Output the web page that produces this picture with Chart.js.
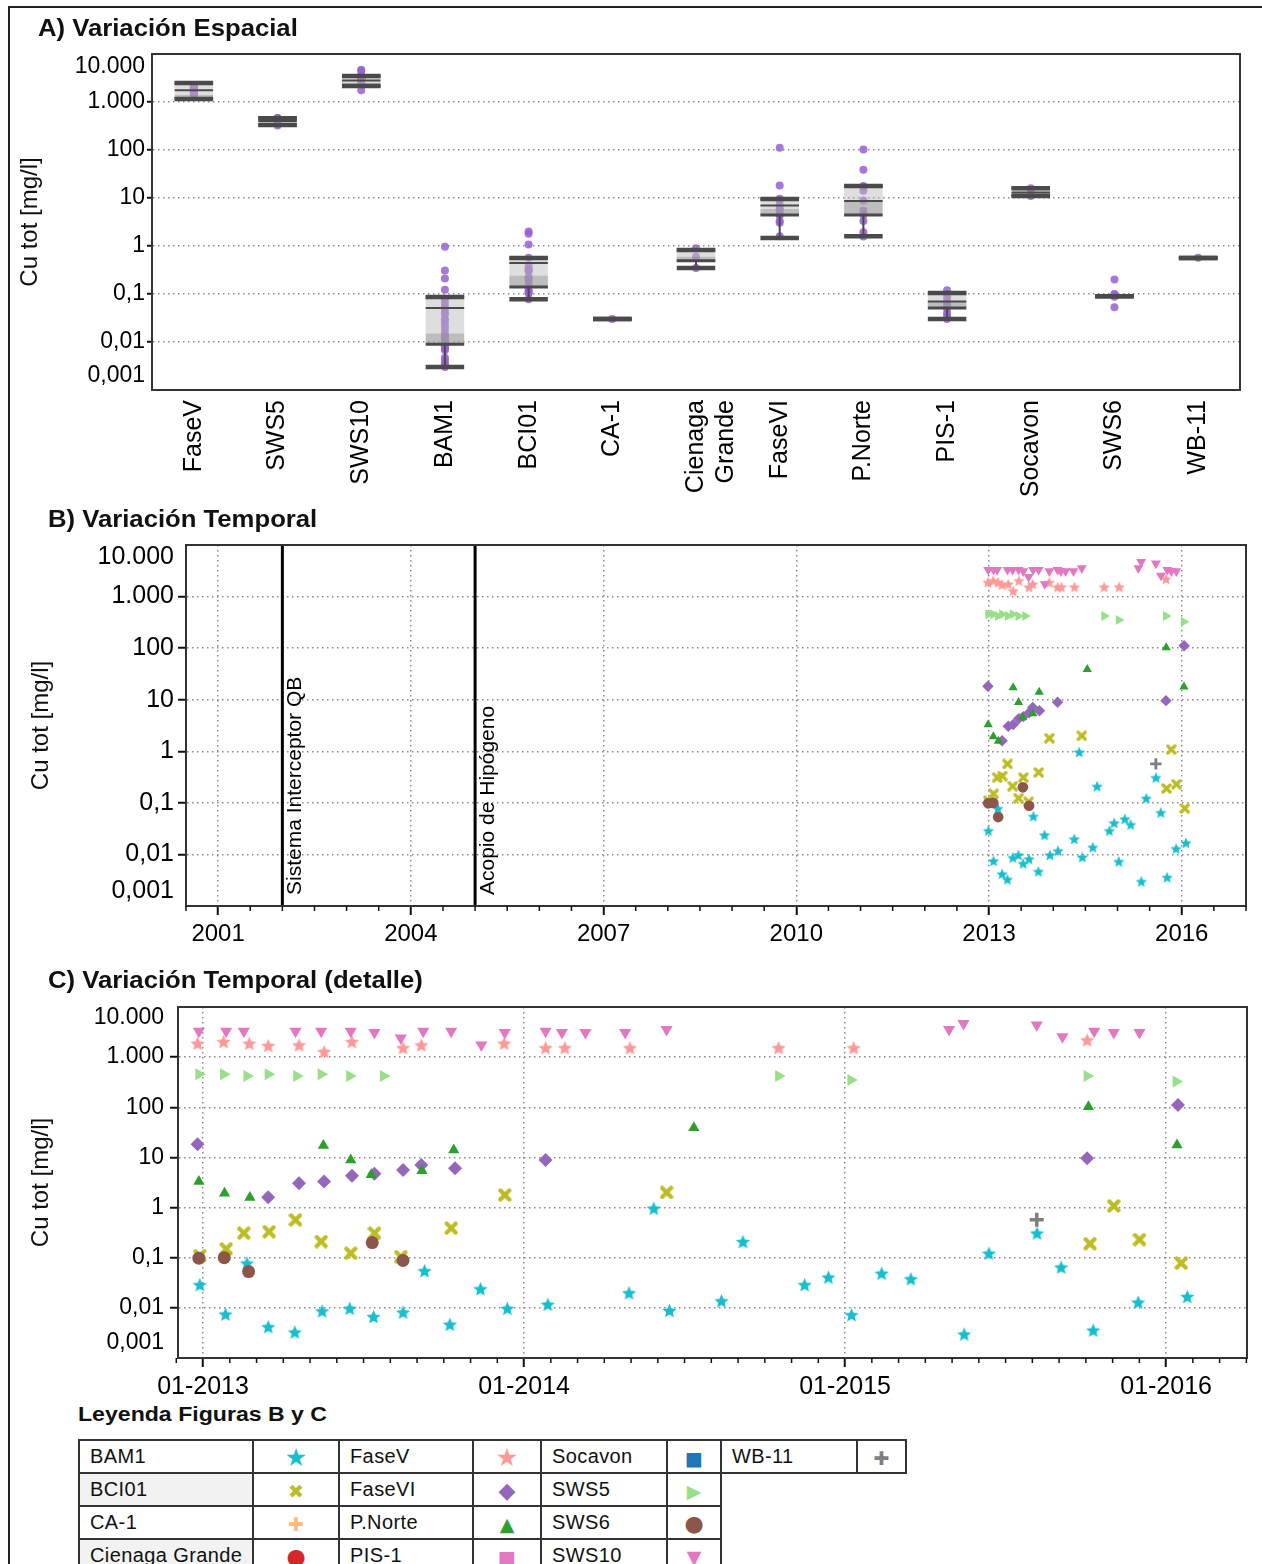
<!DOCTYPE html>
<html><head><meta charset="utf-8">
<script src="https://cdn.jsdelivr.net/npm/chart.js@4.4.1/dist/chart.umd.min.js"></script>
<style>
html,body{margin:0;padding:0;background:#fff;width:1262px;height:1564px;overflow:hidden;font-family:'Liberation Sans',Arial,sans-serif;}
#frame{position:absolute;left:8px;top:6px;width:1270px;height:1600px;border-left:2px solid #222;border-top:2px solid #222;}
canvas{position:absolute;left:0;}
.ttl{position:absolute;font-weight:bold;font-size:24px;line-height:26px;transform-origin:left center;transform:scaleX(1.07);white-space:nowrap;color:#111;z-index:5}
#legend{position:absolute;left:78px;top:1439px;border-collapse:collapse;table-layout:fixed;width:827px;font-size:20px;letter-spacing:0.4px;color:#111;z-index:5}
#legend tr{height:33px}
#legend td{border:2px solid #333;padding:0 0 0 10px;white-space:nowrap;overflow:hidden}
#legend td.s{text-align:center;padding:2px 0 0 0;font-family:'DejaVu Sans',sans-serif;font-size:19px;letter-spacing:0;line-height:20px}
#legend td.s.big{font-size:25px}
#legend td.s.mid{font-size:22px}
#legend td.g{background:#f2f2f2}
</style>
</head><body>
<div id="frame"></div>
<canvas id="cA" width="1262" height="505" style="top:0"></canvas>
<canvas id="cB" width="1262" height="460" style="top:505px"></canvas>
<canvas id="cC" width="1262" height="435" style="top:965px"></canvas>
<div class="ttl" style="left:38px;top:15px">A) Variación Espacial</div>
<div class="ttl" style="left:48px;top:506px">B) Variación Temporal</div>
<div class="ttl" style="left:48px;top:967px">C) Variación Temporal (detalle)</div>
<div class="ttl" style="left:78px;top:1401px;font-size:21px;transform:scaleX(1.1)">Leyenda Figuras B y C</div>
<table id="legend">
<colgroup><col style="width:174px"><col style="width:86px"><col style="width:134px"><col style="width:68px"><col style="width:126px"><col style="width:54px"><col style="width:136px"><col style="width:49px"></colgroup>
<tr><td>BAM1</td><td class="s big" style="color:#17becf">★</td><td>FaseV</td><td class="s big" style="color:#ff9896">★</td><td>Socavon</td><td class="s" style="color:#1f77b4">■</td><td>WB-11</td><td class="s" style="color:#7f7f7f">✚</td></tr>
<tr><td class="g">BCI01</td><td class="s" style="color:#bcbd22">✖</td><td>FaseVI</td><td class="s mid" style="color:#9467bd">◆</td><td>SWS5</td><td class="s" style="color:#98df8a">▶&#xFE0E;</td></tr>
<tr><td>CA-1</td><td class="s" style="color:#ffbb78">✚</td><td>P.Norte</td><td class="s" style="color:#2ca02c">▲</td><td>SWS6</td><td class="s mid" style="color:#8c564b">●</td></tr>
<tr><td class="g">Cienaga Grande</td><td class="s mid" style="color:#d62728">●</td><td>PIS-1</td><td class="s" style="color:#e377c2">■</td><td>SWS10</td><td class="s" style="color:#e377c2">▼</td></tr>
</table>
<script>
// ---------------- DATA ----------------
const yTickValues = [0.001, 0.01, 0.1, 1, 10, 100, 1000, 10000];
const yTickLabels = ['0,001', '0,01', '0,1', '1', '10', '100', '1.000', '10.000'];

// Panel A: sites and box statistics
const sites     = ['FaseV','SWS5','SWS10','BAM1','BCI01','CA-1','Cienaga Grande','FaseVI','P.Norte','PIS-1','Socavon','SWS6','WB-11'];
const whiskLow  = [1150, 330, 2150, 0.003, 0.078, 0.03, 0.35, 1.47, 1.6, 0.03, 11, 0.09, 0.56];
const boxLow    = [1150, 330, 2150, 0.009, 0.14, 0.03, 0.49, 4.4, 4.4, 0.051, 11, 0.09, 0.56];
const boxMid    = [1400, 370, 2500, 0.015, 0.24, 0.03, 0.6, 5.9, 8.7, 0.07, 13, 0.09, 0.56];
const boxHigh   = [2500, 460, 3500, 0.087, 0.56, 0.03, 0.83, 9.5, 17.8, 0.105, 16, 0.09, 0.56];
const whiskHigh = [2500, 460, 3500, 0.087, 0.56, 0.03, 0.83, 9.5, 17.8, 0.105, 16, 0.09, 0.56];
const meanLine  = [1750, 400, 2800, 0.051, 0.44, 0.03, 0.49, 7.0, 8.7, 0.07, 13, 0.09, 0.56];
// sites without time series in B/C
const ca1Values     = [0.03];
const cienagaValues = [0.9, 0.6, 0.35];
const pis1Values    = [0.12, 0.1, 0.085, 0.07, 0.06, 0.05, 0.04, 0.035, 0.03];
const socavonValues = [16, 13, 11];

// Time series (decimal year, Cu tot mg/l)
const bam1T = [2012.990, 2013.070, 2013.137, 2013.203, 2013.286, 2013.371, 2013.457, 2013.531, 2013.623, 2013.690, 2013.769, 2013.864, 2013.948, 2014.074, 2014.327, 2014.404, 2014.453, 2014.615, 2014.682, 2014.874, 2014.948, 2015.020, 2015.114, 2015.205, 2015.371, 2015.448, 2015.598, 2015.673, 2015.773, 2015.913, 2016.066];
const bam1V = [0.029, 0.0075, 0.078, 0.0042, 0.0033, 0.0087, 0.0098, 0.0067, 0.0082, 0.055, 0.0047, 0.024, 0.0098, 0.0118, 0.020, 0.97, 0.0089, 0.0138, 0.21, 0.029, 0.041, 0.0073, 0.049, 0.038, 0.003, 0.123, 0.31, 0.065, 0.0036, 0.013, 0.0168];
const bci01T = [2012.990, 2013.072, 2013.127, 2013.206, 2013.288, 2013.368, 2013.460, 2013.534, 2013.616, 2013.773, 2013.940, 2014.444, 2015.763, 2015.837, 2015.917, 2016.047];
const bci01V = [0.11, 0.15, 0.31, 0.33, 0.57, 0.21, 0.123, 0.31, 0.105, 0.39, 1.79, 2.0, 0.19, 1.08, 0.23, 0.078];
const faseVT = [2012.983, 2013.064, 2013.144, 2013.203, 2013.299, 2013.377, 2013.464, 2013.623, 2013.680, 2013.938, 2014.067, 2014.127, 2014.330, 2014.793, 2015.027, 2015.754];
const faseVV = [1890, 2040, 1890, 1700, 1750, 1290, 2040, 1540, 1750, 1890, 1540, 1540, 1540, 1540, 1540, 2200];
const faseVIT = [2012.983, 2013.203, 2013.299, 2013.377, 2013.464, 2013.534, 2013.623, 2013.680, 2013.785, 2014.067, 2015.754, 2016.037];
const faseVIV = [18.3, 1.6, 3.06, 3.3, 4.3, 4.7, 5.6, 7.1, 6.1, 8.9, 9.6, 111];
const pNorteT = [2012.987, 2013.067, 2013.146, 2013.375, 2013.460, 2013.524, 2013.682, 2013.781, 2014.529, 2015.758, 2016.034];
const pNorteV = [3.3, 1.93, 1.58, 17.2, 8.9, 4.5, 5.4, 14.1, 39, 103, 17.7];
const sws5T = [2012.987, 2013.064, 2013.137, 2013.203, 2013.292, 2013.368, 2013.457, 2013.562, 2014.793, 2015.018, 2015.754, 2016.031];
const sws5V = [456, 456, 420, 456, 420, 456, 420, 420, 420, 350, 420, 325];
const sws6T = [2012.987, 2013.066, 2013.142, 2013.527, 2013.623];
const sws6V = [0.098, 0.10, 0.053, 0.20, 0.088];
const sws10T = [2012.987, 2013.072, 2013.127, 2013.288, 2013.368, 2013.460, 2013.534, 2013.616, 2013.686, 2013.773, 2013.867, 2013.940, 2014.067, 2014.118, 2014.191, 2014.315, 2014.444, 2015.324, 2015.369, 2015.597, 2015.677, 2015.776, 2015.837, 2015.917];
const sws10V = [3300, 3300, 3300, 3300, 3300, 3300, 3100, 2400, 3300, 3300, 1750, 3100, 3300, 3100, 3100, 3100, 3550, 3550, 4700, 4400, 2550, 3300, 3100, 3100];
const wb11T = [2015.597];
const wb11V = [0.57];

const bTicks = [2001, 2004, 2007, 2010, 2013, 2016];
const cTicks = [2013, 2014, 2015, 2016];
const eventYears  = [2002, 2005];
const eventLabels = ['Sistema Interceptor QB', 'Acopio de Hipógeno'];

// ---------------- HELPERS ----------------
const F = "'Liberation Sans', Arial, sans-serif";
const siteValues = {'FaseV': faseVV, 'SWS5': sws5V, 'SWS10': sws10V, 'BAM1': bam1V, 'BCI01': bci01V, 'CA-1': ca1Values,
  'Cienaga Grande': cienagaValues, 'FaseVI': faseVIV, 'P.Norte': pNorteV, 'PIS-1': pis1Values, 'Socavon': socavonValues, 'SWS6': sws6V, 'WB-11': wb11V};

function tickIndex(v) { return yTickValues.findIndex(t => Math.abs(Math.log10(t) - Math.log10(v)) < 1e-6); }
function isEnd(c) { if (!c || !c.tick) return false; const i = tickIndex(c.tick.value); return i === 0 || i === yTickValues.length - 1; }

function yAxis(o) {
  return {
    type: 'logarithmic', min: 0.001, max: 10000,
    afterBuildTicks: s => { s.ticks = yTickValues.map(v => ({value: v})); },
    afterFit: s => { s.width = o.width; },
    ticks: { autoSkip: false, padding: o.pad, color: '#000', font: {size: o.font, family: F},
      callback: v => { const i = tickIndex(v); return (i <= 0 || i === yTickValues.length - 1) ? '' : yTickLabels[i]; } },
    grid: { color: c => isEnd(c) ? 'rgba(0,0,0,0)' : '#8a8a8a', lineWidth: 1.5, tickLength: o.tick, tickWidth: 2,
      tickColor: c => isEnd(c) ? 'rgba(0,0,0,0)' : '#111', tickBorderDash: [] },
    border: { display: true, color: '#333', width: 2, dash: [1.5, 3.5] },
    title: { display: true, text: 'Cu tot [mg/l]', color: '#111', font: {size: 24, family: F}, padding: {top: o.titlePad, bottom: 0} }
  };
}

function framePlugin(o) {
  return {
    id: 'frame' + o.key,
    afterDraw(chart) {
      const {ctx, chartArea: a, scales} = chart;
      const y = scales.y, x = scales.x;
      ctx.save();
      ctx.strokeStyle = '#333'; ctx.lineWidth = 2;
      ctx.strokeRect(a.left, a.top, a.right - a.left, a.bottom - a.top);
      ctx.fillStyle = '#000'; ctx.font = o.font + 'px ' + F; ctx.textAlign = 'right'; ctx.textBaseline = 'middle';
      const lx = y.right - o.tick - o.pad;
      ctx.fillText(yTickLabels[yTickLabels.length - 1], lx, y.getPixelForValue(10000) + o.endTop);
      ctx.fillText(yTickLabels[0], lx, y.getPixelForValue(0.001) - o.endBottom);
      if (o.minor) {
        ctx.strokeStyle = '#111'; ctx.lineWidth = 1.5;
        for (const t of o.minor) {
          const px = x.getPixelForValue(t);
          if (px < a.left - 12 || px > a.right + 1) continue;
          ctx.beginPath(); ctx.moveTo(px, a.bottom); ctx.lineTo(px, a.bottom + 5); ctx.stroke();
        }
      }
      ctx.restore();
    }
  };
}

// marker images
function starImg(color, size) {
  const c = document.createElement('canvas'); c.width = c.height = size;
  const g = c.getContext('2d'); const R = size / 2, r = R * 0.45, cy = R + R * 0.1;
  g.beginPath();
  for (let k = 0; k < 10; k++) {
    const ang = -Math.PI / 2 + k * Math.PI / 5; const rr = (k % 2) ? r : R;
    g.lineTo(R + rr * Math.cos(ang), cy + rr * Math.sin(ang));
  }
  g.closePath(); g.fillStyle = color; g.fill();
  return c;
}
function xImg(color, size) {
  const c = document.createElement('canvas'); c.width = c.height = size;
  const g = c.getContext('2d'); const m = size * 0.18;
  g.strokeStyle = color; g.lineWidth = size * 0.3; g.lineCap = 'round';
  g.beginPath(); g.moveTo(m, m); g.lineTo(size - m, size - m); g.moveTo(size - m, m); g.lineTo(m, size - m); g.stroke();
  return c;
}

function seriesDatasets(k) {
  const pts = (T, V) => T.map((t, i) => ({x: t, y: V[i]}));
  return [
    {label: 'SWS10', data: pts(sws10T, sws10V), pointStyle: 'triangle', pointRotation: 180, pointRadius: 7 * k, backgroundColor: '#e377c2', borderColor: '#e377c2', borderWidth: 0},
    {label: 'FaseV', data: pts(faseVT, faseVV), pointStyle: starImg('#ff9896', Math.round(15 * k)), pointRadius: 7 * k},
    {label: 'SWS5', data: pts(sws5T, sws5V), pointStyle: 'triangle', pointRotation: 90, pointRadius: 7 * k, backgroundColor: '#98df8a', borderColor: '#98df8a', borderWidth: 0},
    {label: 'P.Norte', data: pts(pNorteT, pNorteV), pointStyle: 'triangle', pointRadius: 6.5 * k, backgroundColor: '#2ca02c', borderColor: '#2ca02c', borderWidth: 0},
    {label: 'FaseVI', data: pts(faseVIT, faseVIV), pointStyle: 'rectRot', pointRadius: 7 * k, backgroundColor: '#9467bd', borderColor: '#9467bd', borderWidth: 0},
    {label: 'SWS6', data: pts(sws6T, sws6V), pointStyle: 'circle', pointRadius: 6.5 * k, backgroundColor: '#8c564b', borderColor: '#8c564b', borderWidth: 0},
    {label: 'BCI01', data: pts(bci01T, bci01V), pointStyle: xImg('#bcbd22', Math.round(14 * k)), pointRadius: 7 * k},
    {label: 'WB-11', data: pts(wb11T, wb11V), pointStyle: 'cross', pointRadius: 7 * k, borderColor: '#7f7f7f', borderWidth: 3.5 * k},
    {label: 'BAM1', data: pts(bam1T, bam1V), pointStyle: starImg('#17becf', Math.round(15 * k)), pointRadius: 7 * k}
  ];
}

// ---------------- CHART A ----------------
const pointsA = sites.flatMap(s => siteValues[s].map(v => ({x: s, y: v})));
const boxPlugin = {
  id: 'boxLines',
  afterDatasetsDraw(chart) {
    const {ctx, scales: {x, y}} = chart;
    const hw = (x.getPixelForValue(1) - x.getPixelForValue(0)) * 0.23;
    const py = v => y.getPixelForValue(v);
    ctx.save(); ctx.strokeStyle = '#4a4a4a';
    const hl = (cx, v, w) => { ctx.lineWidth = w; ctx.beginPath(); ctx.moveTo(cx - hw, py(v)); ctx.lineTo(cx + hw, py(v)); ctx.stroke(); };
    sites.forEach((s, i) => {
      const cx = x.getPixelForValue(i);
      ctx.lineWidth = 2;
      ctx.beginPath(); ctx.moveTo(cx, py(whiskLow[i])); ctx.lineTo(cx, py(boxLow[i]));
      ctx.moveTo(cx, py(boxHigh[i])); ctx.lineTo(cx, py(whiskHigh[i])); ctx.stroke();
      hl(cx, meanLine[i], 2);
      hl(cx, boxLow[i], 3); hl(cx, boxHigh[i], 3);
      hl(cx, whiskLow[i], 4.5); hl(cx, whiskHigh[i], 4.5);
    });
    ctx.restore();
  }
};
new Chart(document.getElementById('cA'), {
  type: 'bar',
  data: {
    labels: sites,
    datasets: [
      {type: 'scatter', data: pointsA, backgroundColor: 'rgba(150,96,208,0.85)', borderWidth: 0, pointRadius: 4, order: 3},
      {type: 'bar', data: sites.map((s, i) => [boxLow[i], boxHigh[i]]), backgroundColor: 'rgba(190,190,190,0.5)', grouped: false, barPercentage: 0.46, categoryPercentage: 1, order: 2},
      {type: 'bar', data: sites.map((s, i) => [boxLow[i], boxMid[i]]), backgroundColor: 'rgba(140,140,140,0.4)', grouped: false, barPercentage: 0.46, categoryPercentage: 1, order: 1}
    ]
  },
  options: {
    responsive: false, maintainAspectRatio: false, animation: false,
    layout: {padding: {top: 54, right: 22, left: 0, bottom: 0}},
    plugins: {legend: {display: false}, tooltip: {enabled: false}},
    scales: {
      x: {type: 'category', offset: true, grid: {display: false, drawTicks: false}, border: {display: true, color: '#333', width: 2},
        ticks: {minRotation: 90, maxRotation: 90, padding: 10, autoSkip: false, color: '#000', font: {size: 25, family: F},
          callback: function (v) { const l = this.getLabelForValue(v); return l.includes(' ') ? l.split(' ') : l; }},
        afterFit: s => { s.height = 115; }},
      y: yAxis({width: 152, pad: 2, tick: 5, font: 23, titlePad: 16})
    }
  },
  plugins: [boxPlugin, framePlugin({key: 'A', font: 23, tick: 5, pad: 2, endTop: 13, endBottom: 14})]
});

// ---------------- CHART B ----------------
const minorB = []; for (let t = 2000.5; t <= 2017; t += 0.5) if (!bTicks.includes(t)) minorB.push(t);
const eventPlugin = {
  id: 'events',
  beforeDatasetsDraw(chart) {
    const {ctx, chartArea: a, scales: {x}} = chart;
    eventYears.forEach((t, i) => {
      const px = x.getPixelForValue(t);
      ctx.save();
      ctx.strokeStyle = '#000'; ctx.lineWidth = 3;
      ctx.beginPath(); ctx.moveTo(px, a.top); ctx.lineTo(px, a.bottom); ctx.stroke();
      ctx.translate(px + 13, a.bottom - 11); ctx.rotate(-Math.PI / 2);
      ctx.font = '21px ' + F; ctx.fillStyle = '#000'; ctx.textAlign = 'left'; ctx.textBaseline = 'middle';
      ctx.fillText(eventLabels[i], 0, 0);
      ctx.restore();
    });
  }
};
function xTime(o) {
  return {
    type: 'linear', min: o.min, max: o.max,
    afterBuildTicks: s => { s.ticks = o.ticks.map(v => ({value: v})); },
    afterFit: s => { s.height = o.height; },
    ticks: {callback: o.cb, padding: 5, autoSkip: false, maxRotation: 0, color: '#000', font: {size: o.font, family: F}},
    grid: {color: '#8a8a8a', lineWidth: 1.5, tickLength: 9, tickWidth: 2, tickColor: '#111', tickBorderDash: []},
    border: {display: true, color: '#333', width: 2, dash: [1.5, 3.5]}
  };
}
new Chart(document.getElementById('cB'), {
  type: 'scatter',
  data: {datasets: seriesDatasets(0.82)},
  options: {
    responsive: false, maintainAspectRatio: false, animation: false,
    layout: {padding: {top: 40, right: 16, left: 0, bottom: 0}},
    plugins: {legend: {display: false}, tooltip: {enabled: false}},
    scales: {
      x: xTime({min: 2000.5, max: 2017, ticks: bTicks, height: 59, font: 24, cb: v => String(v)}),
      y: yAxis({width: 186, pad: 4, tick: 8, font: 25, titlePad: 27})
    }
  },
  plugins: [eventPlugin, framePlugin({key: 'B', font: 25, tick: 8, pad: 4, endTop: 12, endBottom: 15, minor: minorB})]
});

// ---------------- CHART C ----------------
const minorC = []; for (let k = -1; k <= 40; k++) if (k % 12 !== 0) minorC.push(2013 + k / 12);
new Chart(document.getElementById('cC'), {
  type: 'scatter',
  data: {datasets: seriesDatasets(1)},
  options: {
    responsive: false, maintainAspectRatio: false, animation: false,
    layout: {padding: {top: 42, right: 15, left: 0, bottom: 0}},
    plugins: {legend: {display: false}, tooltip: {enabled: false}},
    scales: {
      x: xTime({min: 2012.922, max: 2016.252, ticks: cTicks, height: 42, font: 25, cb: v => '01-' + v}),
      y: yAxis({width: 178, pad: 6, tick: 8, font: 23, titlePad: 27})
    }
  },
  plugins: [framePlugin({key: 'C', font: 23, tick: 8, pad: 6, endTop: 11, endBottom: 15, minor: minorC})]
});
</script>
</body></html>
